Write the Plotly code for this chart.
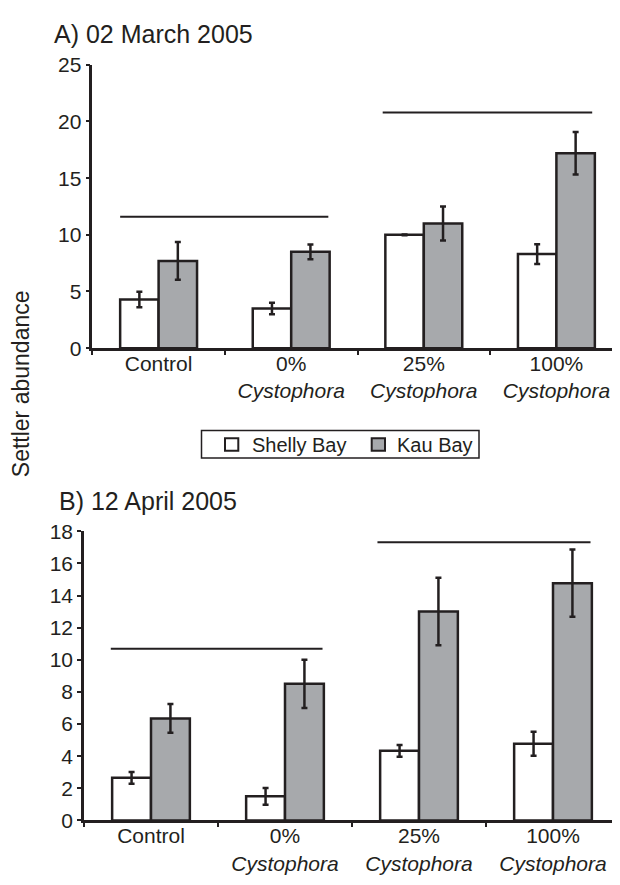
import plotly.graph_objects as go
from plotly.subplots import make_subplots

categories = ["Control", "0% Cystophora", "25% Cystophora", "100% Cystophora"]
tick_labels = ["Control", "0%<br><i>Cystophora</i>", "25%<br><i>Cystophora</i>", "100%<br><i>Cystophora</i>"]
series_names = ["Shelly Bay", "Kau Bay"]

# Panel A: 02 March 2005
a_shelly = [4.3, 3.5, 10.0, 8.3]
a_shelly_err = [0.68, 0.5, 0.03, 0.87]
a_kau = [7.7, 8.5, 11.0, 17.2]
a_kau_err = [1.67, 0.65, 1.5, 1.87]
a_sig_start = [-0.29, 1.69]
a_sig_end = [1.28, 3.27]
a_sig_y = [11.6, 20.8]

# Panel B: 12 April 2005
b_shelly = [2.65, 1.5, 4.33, 4.77]
b_shelly_err = [0.36, 0.52, 0.36, 0.75]
b_kau = [6.35, 8.5, 13.0, 14.77]
b_kau_err = [0.9, 1.5, 2.1, 2.1]
b_sig_start = [-0.30, 1.69]
b_sig_end = [1.28, 3.28]
b_sig_y = [10.69, 17.32]

INK = "#231f20"
GREY = "#a7a9ac"
FONT = "Liberation Sans, Arial, sans-serif"
OFF = 8                      # page body margin
W, H = 620 - OFF, 885 - OFF  # figure size


def px(x):
    return (x - OFF) / W


def py(y):
    return 1 - (y - OFF) / H


fig = make_subplots(rows=2, cols=1)


def add_panel(row, shelly, shelly_err, kau, kau_err):
    for name, vals, errs, fill in [(series_names[0], shelly, shelly_err, "white"),
                                   (series_names[1], kau, kau_err, GREY)]:
        fig.add_trace(go.Bar(
            x=categories, y=vals, name=name, showlegend=False,
            marker=dict(color=fill, line=dict(color=INK, width=2.5)),
            error_y=dict(type="data", array=errs, visible=True, color=INK, thickness=2.5, width=3),
        ), row=row, col=1)


add_panel(1, a_shelly, a_shelly_err, a_kau, a_kau_err)
add_panel(2, b_shelly, b_shelly_err, b_kau, b_kau_err)

shapes = []
for xs, xe, yv in zip(a_sig_start, a_sig_end, a_sig_y):
    shapes.append(dict(type="line", xref="x", yref="y", x0=xs, x1=xe, y0=yv, y1=yv,
                       line=dict(color=INK, width=2)))
for xs, xe, yv in zip(b_sig_start, b_sig_end, b_sig_y):
    shapes.append(dict(type="line", xref="x2", yref="y2", x0=xs, x1=xe, y0=yv, y1=yv,
                       line=dict(color=INK, width=2)))

# legend (drawn box with swatches)
shapes.append(dict(type="rect", xref="paper", yref="paper", x0=px(201.5), x1=px(479),
                   y0=py(457.7), y1=py(429.5), line=dict(color=INK, width=1.5), fillcolor="white"))
legend_swatch_x = [225, 371.7]
legend_text_x = [250, 395]
legend_fill = ["white", GREY]
annotations = []
for sx, tx, fill, name in zip(legend_swatch_x, legend_text_x, legend_fill, series_names):
    shapes.append(dict(type="rect", xref="paper", yref="paper", x0=px(sx), x1=px(sx + 13.3),
                       y0=py(450.3), y1=py(437.5), line=dict(color=INK, width=2), fillcolor=fill))
    annotations.append(dict(text=name, xref="paper", yref="paper", x=px(tx), y=py(444),
                            xanchor="left", yanchor="middle", showarrow=False,
                            font=dict(size=20, color=INK)))

axis_common = dict(showline=True, linecolor=INK, linewidth=2.5, ticks="outside",
                   tickcolor=INK, tickwidth=2, ticklen=4, showgrid=False, zeroline=False,
                   tickfont=dict(size=21, color=INK, family=FONT))

annotations += [
    dict(text="A) 02 March 2005", xref="paper", yref="paper", x=px(52), y=py(22.5),
         xanchor="left", yanchor="middle", showarrow=False, font=dict(size=25, color=INK)),
    dict(text="B) 12 April 2005", xref="paper", yref="paper", x=px(57), y=py(502),
         xanchor="left", yanchor="middle", showarrow=False, font=dict(size=25, color=INK)),
    dict(text="Settler abundance", xref="paper", yref="paper", x=px(21), y=py(382),
         xanchor="center", yanchor="middle", textangle=-90, showarrow=False,
         font=dict(size=23, color=INK)),
]

fig.update_layout(
    width=W, height=H, margin=dict(l=0, r=0, t=0, b=0),
    paper_bgcolor="white", plot_bgcolor="white",
    font=dict(family=FONT, color=INK, size=21),
    barmode="group", bargap=0.42, bargroupgap=0,
    shapes=shapes, annotations=annotations, showlegend=False,
    xaxis=dict(domain=[px(92.3), 1.0], range=[-0.5, -0.5 + (620 - 92.3) / 132.6], type="category",
               tickson="boundaries", tickvals=categories, ticktext=tick_labels,
               ticklabelstandoff=-5, **axis_common),
    yaxis=dict(domain=[py(345), py(54)], range=[0, 25], dtick=5, **axis_common),
    xaxis2=dict(domain=[px(84), 1.0], range=[-0.5, -0.5 + (620 - 84) / 134], type="category",
                tickson="boundaries", tickvals=categories, ticktext=tick_labels,
                ticklabelstandoff=-5, **axis_common),
    yaxis2=dict(domain=[py(830), py(533)], range=[0, 18], dtick=2, **axis_common),
)

fig.write_html("out.html")
